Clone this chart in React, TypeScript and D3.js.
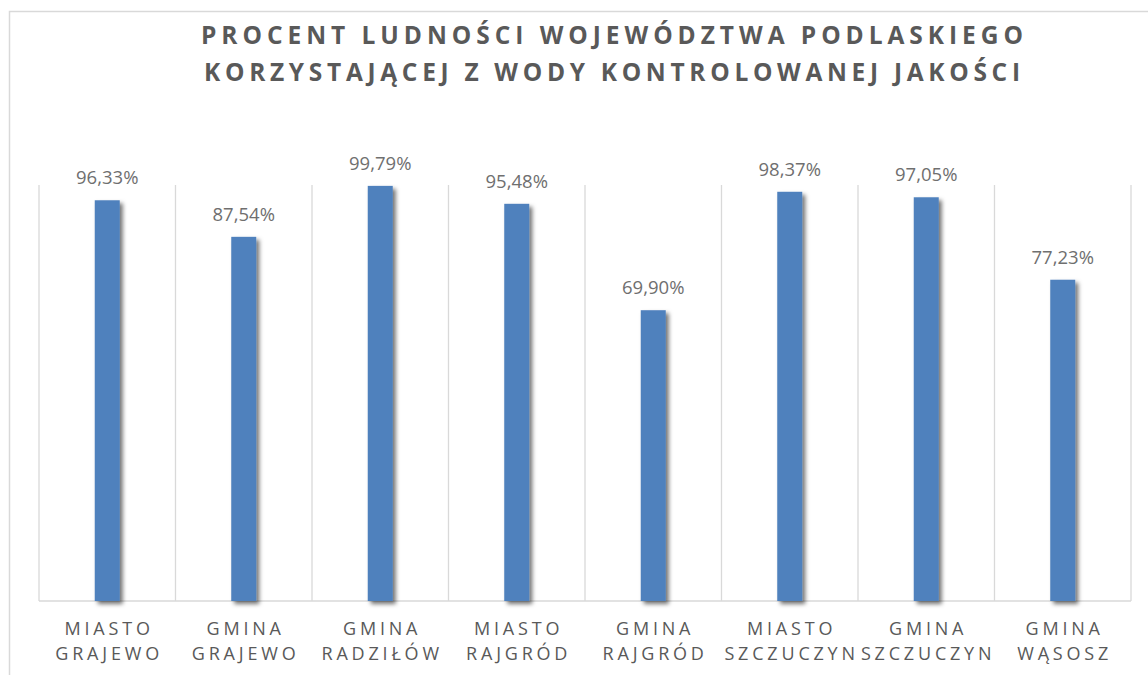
import React from "react";
import * as d3 from "d3";

const titleLines = [
  "PROCENT LUDNOŚCI WOJEWÓDZTWA PODLASKIEGO",
  "KORZYSTAJĄCEJ Z WODY KONTROLOWANEJ JAKOŚCI",
];
const categories = [
  ["MIASTO", "GRAJEWO"],
  ["GMINA", "GRAJEWO"],
  ["GMINA", "RADZIŁÓW"],
  ["MIASTO", "RAJGRÓD"],
  ["GMINA", "RAJGRÓD"],
  ["MIASTO", "SZCZUCZYN"],
  ["GMINA", "SZCZUCZYN"],
  ["GMINA", "WĄSOSZ"],
];
const values = [96.33, 87.54, 99.79, 95.48, 69.9, 98.37, 97.05, 77.23];

const W = 1148;
const H = 675;
const left = 39;
const right = 1131;
const top = 185;
const bottom = 601;
const font = "'Open Sans', 'Liberation Sans', sans-serif";

export default function App() {
  const keys = categories.map((c) => c.join(" "));
  const x = d3.scaleBand<string>().domain(keys).range([left, right]).padding(0);
  const y = d3.scaleLinear().domain([0, 100]).range([bottom, top]);
  const bw = 25;
  const fmt = (v: number) => v.toFixed(2).replace(".", ",") + "%";
  const boundaries = keys.map((k) => x(k)!).concat([right]);
  const ls = 3.8;

  return (
    <svg
      width={W}
      height={H}
      style={{ position: "absolute", left: 0, top: 0, background: "#fff" }}
    >
      <defs>
        <filter id="sh" x="-50%" y="-10%" width="200%" height="130%">
          <feDropShadow dx="3" dy="3" stdDeviation="2.2" floodColor="#000" floodOpacity="0.55" />
        </filter>
      </defs>
      <rect x={0} y={0} width={W} height={H} fill="#fff" />
      <rect x={9.5} y={11.5} width={W + 20} height={H + 20} fill="none" stroke="#d9d9d9" strokeWidth={1.5} />
      {titleLines.map((t, i) => (
        <text
          key={i}
          x={612}
          y={44 + i * 37}
          textAnchor="middle"
          fontFamily={font}
          fontWeight={700}
          fontSize={24.5}
          fill="#595959"
          textLength={i === 0 ? 822 : 816}
          lengthAdjust="spacing"
        >
          {t}
        </text>
      ))}
      {boundaries.map((b, i) => (
        <line key={i} x1={b} x2={b} y1={top} y2={bottom} stroke="#d9d9d9" strokeWidth={1.3} />
      ))}
      <line x1={left} x2={right} y1={bottom} y2={bottom} stroke="#d9d9d9" strokeWidth={1.5} />
      {values.map((v, i) => {
        const cx = x(keys[i])! + x.bandwidth() / 2;
        return (
          <g key={i}>
            <rect
              x={cx - bw / 2}
              y={y(v)}
              width={bw}
              height={bottom - y(v)}
              fill="#4f81bd"
              filter="url(#sh)"
            />
            <text
              x={cx}
              y={y(v) - 16}
              textAnchor="middle"
              fontFamily={font}
              fontSize={18.5}
              fill="#6f6f6f"
            >
              {fmt(v)}
            </text>
          </g>
        );
      })}
      {categories.map((c, i) => {
        const cx = x(keys[i])! + x.bandwidth() / 2;
        return c.map((line, j) => (
          <text
            key={i + "-" + j}
            x={cx + ls / 2}
            y={635 + j * 25}
            textAnchor="middle"
            fontFamily={font}
            fontSize={18}
            letterSpacing={ls}
            fill="#595959"
          >
            {line}
          </text>
        ));
      })}
    </svg>
  );
}
